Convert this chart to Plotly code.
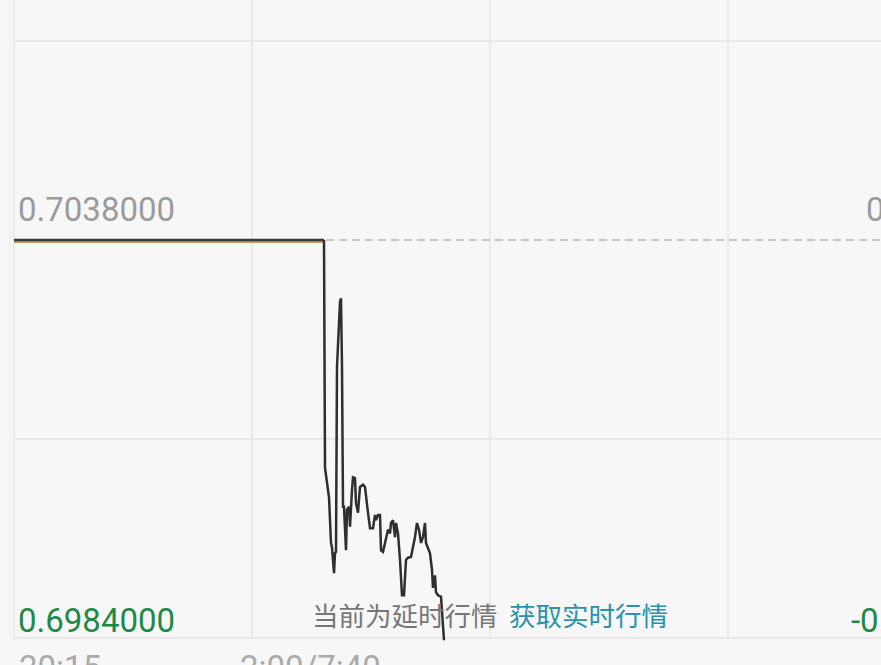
import plotly.graph_objects as go

# ---- data (minutes from session open, price) ----
prev_close = 0.7038
flat_minutes = [0, 310]
flat_prices = [0.7038, 0.7038]
avg_minutes = [0, 310]
avg_prices = [0.703775, 0.703775]

minutes = [310, 311, 315, 317, 318, 320, 321, 322, 323, 325, 326, 327, 328, 329, 330,
           332, 333, 335, 336, 338, 339, 341, 342, 344, 345, 346, 349, 351, 354, 356,
           359, 361, 362, 364, 366, 367, 369, 372, 374, 376, 377, 379, 381, 382, 384,
           386, 388, 390, 392, 394, 397, 401, 403, 405, 407, 409, 411, 412, 416, 418,
           419, 421, 422, 424, 427, 430]
prices = [0.7038, 0.70071, 0.70031, 0.69969, 0.69963, 0.69928, 0.69955, 0.69957, 0.70208,
          0.70261, 0.70296, 0.70301, 0.70208, 0.70018, 0.70018, 0.69959, 0.70014, 0.70018,
          0.69991, 0.70041, 0.70058, 0.70057, 0.70023, 0.70010, 0.70027, 0.70045, 0.70048,
          0.70045, 0.70010, 0.69989, 0.69989, 0.70007, 0.70000, 0.70007, 0.70007, 0.69959,
          0.69957, 0.69977, 0.69987, 0.69982, 0.69996, 0.70000, 0.69977, 0.69996, 0.69982,
          0.69946, 0.69898, 0.69898, 0.69946, 0.69949, 0.69950, 0.69977, 0.69996, 0.69987,
          0.69969, 0.69977, 0.69996, 0.69969, 0.69955, 0.69932, 0.69908, 0.69925, 0.69902,
          0.69898, 0.69896, 0.69837]

grid_prices = [0.7065, 0.7011, 0.6984]
grid_minutes = [0, 238, 476, 714]
left_labels = ["0.7038000", "0.6984000"]
right_labels = ["0.00%", "-0.77%"]
time_labels = ["20:15", "2:00/7:40"]
notice_gray = "当前为延时行情"
notice_link = "获取实时行情"

W, H = 881, 665
X_RANGE = [-14, 867]
Y_RANGE = [0.698034, 0.707056]

def px(x):
    return x / W

def py(y):
    return 1 - y / H

BG = "#f7f7f7"
GRID = "#e4e4e4"
GRAY = "#9b9b9b"
GREEN = "#1f8a47"
TEAL = "#2a93aa"

fig = go.Figure()
fig.add_trace(go.Scatter(x=avg_minutes, y=avg_prices, mode="lines",
                         line=dict(color="#c99d5e", width=2.5), hoverinfo="skip"))
fig.add_trace(go.Scatter(x=flat_minutes, y=flat_prices, mode="lines",
                         line=dict(color="#3a3a3a", width=2.3), hoverinfo="skip"))
fig.add_trace(go.Scatter(x=minutes, y=prices, mode="lines",
                         line=dict(color="#2f2f2f", width=2.5), hoverinfo="skip"))

shapes = []
for gp in grid_prices:
    shapes.append(dict(type="line", xref="paper", x0=px(14), x1=1, yref="y", y0=gp, y1=gp,
                       line=dict(color=GRID, width=1.3), layer="below"))
for gm in grid_minutes:
    shapes.append(dict(type="line", xref="x", x0=gm, x1=gm, yref="paper", y0=py(638), y1=1,
                       line=dict(color=GRID, width=1.3), layer="below"))
shapes.append(dict(type="line", xref="x", x0=-4, x1=-4, yref="paper", y0=py(638), y1=1,
                   line=dict(color="#ececec", width=1), layer="below"))
shapes.append(dict(type="line", xref="x", x0=0, x1=X_RANGE[1], yref="y", y0=prev_close, y1=prev_close,
                   line=dict(color="#b5b5b5", width=1.6, dash="8px,5px"), layer="below"))

font_num = "Roboto, 'Noto Sans', sans-serif"
font_cjk = "'Noto Sans CJK SC', sans-serif"
ann = []
ann.append(dict(text=left_labels[0], xref="paper", yref="paper", x=px(16), y=py(209),
                xanchor="left", yanchor="middle", showarrow=False,
                font=dict(family=font_num, size=33, color=GRAY)))
ann.append(dict(text=left_labels[1], xref="paper", yref="paper", x=px(16), y=py(620),
                xanchor="left", yanchor="middle", showarrow=False,
                font=dict(family=font_num, size=33, color=GREEN)))
ann.append(dict(text=right_labels[0], xref="paper", yref="paper", x=px(864), y=py(209),
                xanchor="left", yanchor="middle", showarrow=False,
                font=dict(family=font_num, size=33, color=GRAY)))
ann.append(dict(text=right_labels[1], xref="paper", yref="paper", x=px(849), y=py(620),
                xanchor="left", yanchor="middle", showarrow=False,
                font=dict(family=font_num, size=33, color=GREEN)))
ann.append(dict(text=time_labels[0], xref="paper", yref="paper", x=px(17), y=py(667),
                xanchor="left", yanchor="middle", showarrow=False,
                font=dict(family=font_num, size=33, color="#aaaaaa")))
ann.append(dict(text=time_labels[1], xref="paper", yref="paper", x=px(238), y=py(667),
                xanchor="left", yanchor="middle", showarrow=False,
                font=dict(family=font_num, size=33, color="#aaaaaa")))
ann.append(dict(text=notice_gray, xref="paper", yref="paper", x=px(310), y=py(614),
                xanchor="left", yanchor="middle", showarrow=False,
                font=dict(family=font_cjk, size=26.5, color="#777777")))
ann.append(dict(text=notice_link, xref="paper", yref="paper", x=px(507), y=py(614),
                xanchor="left", yanchor="middle", showarrow=False,
                font=dict(family=font_cjk, size=26.5, color=TEAL)))

fig.update_layout(
    width=W, height=H, autosize=False,
    margin=dict(l=0, r=0, t=0, b=0),
    paper_bgcolor=BG, plot_bgcolor=BG,
    showlegend=False,
    xaxis=dict(range=X_RANGE, showgrid=False, zeroline=False, showticklabels=False, fixedrange=True),
    yaxis=dict(range=Y_RANGE, showgrid=False, zeroline=False, showticklabels=False, fixedrange=True),
    shapes=shapes, annotations=ann,
)
fig.write_html(
    "out.html",
    config={"displayModeBar": False, "staticPlot": True},
    post_script="document.body.style.margin='0';document.body.style.background='%s';"
                "document.body.style.overflow='hidden';" % BG,
)
